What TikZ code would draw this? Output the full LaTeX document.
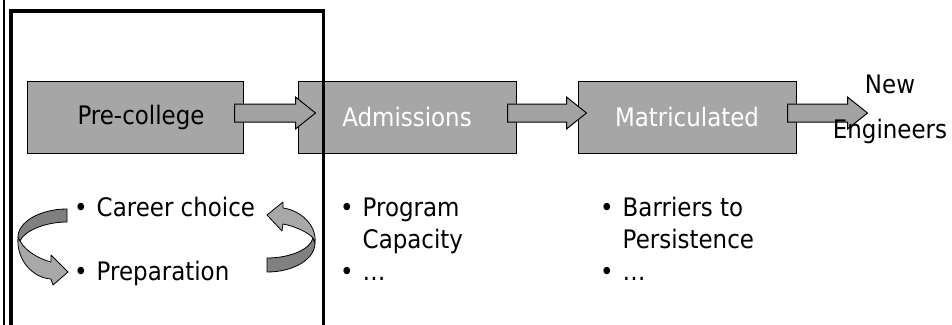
\documentclass[tikz,border=0pt]{standalone}
\usepackage{fontspec}
\setmainfont{DejaVu Sans}[FakeStretch=0.9]
\usetikzlibrary{calc}
\definecolor{boxgray}{RGB}{166,166,166}
\definecolor{arrgray}{RGB}{162,162,162}
\definecolor{curvedarkc}{RGB}{128,128,128}
\definecolor{curvelightc}{RGB}{168,168,168}
\newcommand\blockarrow[2]{%
  \filldraw[blockarr] ($(#1)+(0,-9)$) -- ($(#2)+(-20,-9)$) -- ($(#2)+(-20,-16)$) -- (#2)
    -- ($(#2)+(-20,16)$) -- ($(#2)+(-20,9)$) -- ($(#1)+(0,9)$) -- cycle;}
\begin{document}
\begin{tikzpicture}[x=1pt,y=-1pt,
  stagebox/.style={draw=black, line width=1pt, fill=boxgray, minimum height=72pt,
    inner sep=0pt, font=\fontsize{25.5}{30}\selectfont},
  blockarr/.style={draw=black, line width=1pt, fill=arrgray, line join=miter},
  listtext/.style={inner sep=0pt, font=\fontsize{25.5}{32}\selectfont, text=black},
  curvedark/.style={fill=curvedarkc, draw=black, line width=0.8pt, line join=round},
  curvelight/.style={fill=curvelightc, draw=black, line width=0.8pt, line join=round}]
\useasboundingbox (0,0) rectangle (952,324);
\fill[white] (0,0) rectangle (952,324);
% stage boxes
\node[stagebox, minimum width=216pt, text=black] (pre) at (135,117) {\hspace*{12pt}Pre-college};
\node[stagebox, minimum width=218pt, text=white] (adm) at (407,117) {Admissions};
\node[stagebox, minimum width=218pt, text=white] (mat) at (687,117) {Matriculated};
% block arrows
\coordinate (a1s) at ($(pre.east)+(-9,-4)$);
\coordinate (a1t) at ($(adm.west)+(18,-4)$);
\coordinate (a2s) at ($(adm.east)+(-9,-4)$);
\coordinate (a2t) at ($(mat.west)+(9,-4)$);
\coordinate (a3s) at ($(mat.east)+(-9,-4)$);
\coordinate (a3t) at ($(mat.east)+(71,-4)$);
\blockarrow{a1s}{a1t}
\blockarrow{a2s}{a2t}
\blockarrow{a3s}{a3t}
% output label
\node[listtext, anchor=base] (new) at (890,93) {New};
\node[listtext, anchor=base] (eng) at (890,138) {Engineers};
% lists
\node[listtext, anchor=base west] (prelist) at (74,216)
  {\begin{tabular}[t]{@{}l@{\hspace{9pt}}l@{}}•&Career choice\\ &\\ •&Preparation\end{tabular}};
\node[listtext, anchor=base west] (admlist) at (340,216)
  {\begin{tabular}[t]{@{}l@{\hspace{9pt}}l@{}}•&Program\\ &Capacity\\ •&…\end{tabular}};
\node[listtext, anchor=base west] (matlist) at (600,216)
  {\begin{tabular}[t]{@{}l@{\hspace{9pt}}l@{}}•&Barriers to\\ &Persistence\\ •&…\end{tabular}};
% left curved arrow
\filldraw[curvedark] (67,209) .. controls (40,209) and (18,222) .. (18,237) -- (20,241)
  .. controls (24,231) and (45,222) .. (67,222) -- cycle;
\filldraw[curvelight] (18,237) .. controls (16,260) and (33,278) .. (51,279) -- (53,285)
  -- (68,272) -- (51,255) -- (51,262) .. controls (40,259) and (26,252) .. (20,241) -- cycle;
% right curved arrow
\filldraw[curvedark] (267,272) .. controls (294,272) and (315,259) .. (315,243) -- (313,238)
  .. controls (310,250) and (289,258) .. (267,258) -- cycle;
\filldraw[curvelight] (315,243) .. controls (317,224) and (299,210) .. (283,208) -- (283,202)
  -- (267,215) -- (282,231) -- (283,224) .. controls (294,226) and (308,232) .. (313,238) -- cycle;
% frame lines
\draw[line width=2.6pt] (4,-5) -- (4,330);
\draw[line width=3.5pt, line join=miter] (10.8,330) -- (10.8,10.8) -- (323.5,10.8) -- (323.5,330);
\end{tikzpicture}
\end{document}
